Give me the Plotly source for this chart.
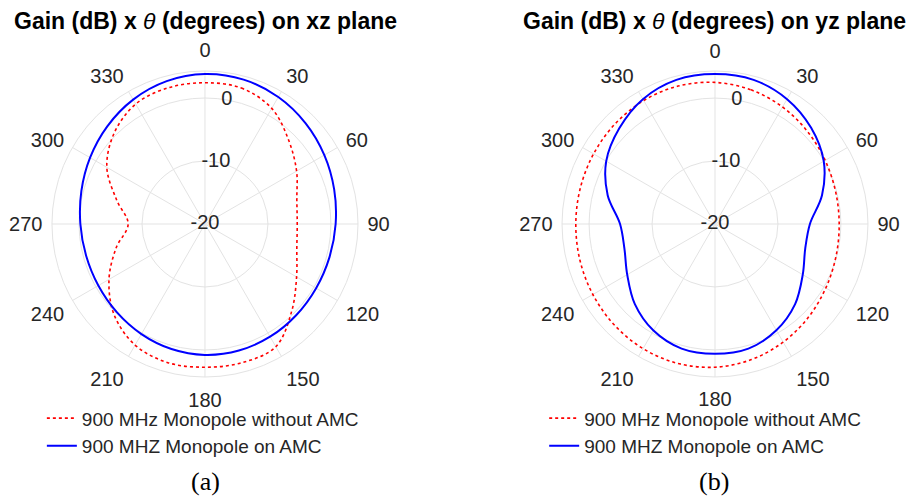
import plotly.graph_objects as go

# ---- data ----
theta_deg = [0, 15, 30, 45, 60, 75, 90, 105, 120, 135, 150, 165,
             180, 195, 210, 225, 240, 255, 270, 285, 300, 315, 330, 345]

# xz plane
xz_without_amc = [2.43, 2.35, 1.2, -1.2, -3.2, -4.9, -5.35, -4.9, -3.2, -0.5, 2.5, 2.8,
                  2.75, 2.8, 2.2, 0.4, -2.4, -5.4, -7.8, -5.5, -2.0, 0.4, 2.0, 2.4]
xz_on_amc = [3.81, 3.73, 3.28, 2.61, 1.89, 1.24, 0.75, 0.46, 0.38, 0.48, 0.67, 0.81,
             0.79, 0.56, 0.19, -0.19, -0.44, -0.46, -0.21, 0.32, 1.07, 1.94, 2.81, 3.48]

# yz plane
yz_without_amc = [2.49, 2.06, 1.46, 0.78, 0.21, -0.16, -0.27, -0.10, 0.33, 0.97, 1.67, 2.30,
                  2.75, 2.92, 2.86, 2.65, 2.40, 2.21, 2.11, 2.14, 2.27, 2.46, 2.65, 2.68]
yz_on_amc = [3.81, 3.7, 2.9, 1.6, -0.05, -2.4, -4.92, -5.15, -3.9, -2.0, -0.5, 0.5,
             0.63, 0.5, -0.45, -2.0, -3.9, -5.1, -4.92, -2.35, -0.05, 1.5, 2.9, 3.7]

angle_ticks = list(range(0, 360, 30))
angle_labels = [str(a) for a in angle_ticks]
radial_ticks = [-20, -10, 0]
r_range = [-20, 4.3]

series_names = ["900 MHz Monopole without AMC", "900 MHZ Monopole on AMC"]
titles = ["<b>Gain (dB) x </b><i>θ</i><b> (degrees) on xz plane</b>",
          "<b>Gain (dB) x </b><i>θ</i><b> (degrees) on yz plane</b>"]
captions = ["(a)", "(b)"]


def closed(vals):
    return list(vals) + [vals[0]]


FONT = "Liberation Sans, Arial, sans-serif"
GRID = "#e3e3e3"
TXT = "#262626"

fig = go.Figure()

panels = [(xz_without_amc, xz_on_amc, "polar", "legend"),
          (yz_without_amc, yz_on_amc, "polar2", "legend2")]

for red_vals, blue_vals, sub, leg in panels:
    fig.add_trace(go.Scatterpolar(
        r=closed(red_vals), theta=closed(theta_deg), mode="lines",
        line=dict(color="#ff0000", width=1.6, dash="dot", shape="spline"),
        name=series_names[0], subplot=sub, legend=leg))
    fig.add_trace(go.Scatterpolar(
        r=closed(blue_vals), theta=closed(theta_deg), mode="lines",
        line=dict(color="#0000ff", width=2, shape="spline"),
        name=series_names[1], subplot=sub, legend=leg))
    # radial tick labels, centred on the radial axis at 10 degrees
    fig.add_trace(go.Scatterpolar(
        r=radial_ticks, theta=[10] * len(radial_ticks), mode="text",
        text=[str(v) for v in radial_ticks],
        textfont=dict(size=20, color=TXT, family=FONT),
        textposition="middle center", showlegend=False, hoverinfo="skip",
        subplot=sub))

ydom = [0.2399, 0.8569]
polar_common = dict(
    bgcolor="white",
    radialaxis=dict(range=r_range, tickvals=radial_ticks[1:], showticklabels=False,
                    showline=False, ticks="", gridcolor=GRID, gridwidth=1, angle=80),
    angularaxis=dict(rotation=90, direction="clockwise", tickvals=angle_ticks,
                     ticktext=angle_labels,
                     showline=True, linecolor=GRID, linewidth=1,
                     gridcolor=GRID, gridwidth=1,
                     ticks="outside", ticklen=5, tickcolor="rgba(0,0,0,0)",
                     tickfont=dict(size=20, color=TXT, family=FONT)),
)

legend_common = dict(xanchor="left", y=0.195, yanchor="top",
                     font=dict(size=19, color=TXT, family=FONT),
                     bgcolor="rgba(0,0,0,0)", itemwidth=30, tracegroupgap=0)

fig.update_layout(
    width=910, height=496,
    margin=dict(l=0, r=0, t=0, b=0),
    paper_bgcolor="white", plot_bgcolor="white",
    font=dict(family=FONT, color=TXT),
    polar=dict(domain=dict(x=[0.0571, 0.3934], y=ydom), **polar_common),
    polar2=dict(domain=dict(x=[0.6176, 0.9538], y=ydom), **polar_common),
    legend=dict(x=0.046, **legend_common),
    legend2=dict(x=0.598, **legend_common),
    showlegend=True,
)

for i, xc in enumerate([205 / 910, 714 / 910]):
    fig.add_annotation(x=xc, y=1 - 21 / 496, xref="paper", yref="paper",
                       text=titles[i], showarrow=False, xanchor="center", yanchor="middle",
                       font=dict(size=23, color="black", family=FONT))
    fig.add_annotation(x=xc, y=1 - 481 / 496, xref="paper", yref="paper",
                       text=captions[i], showarrow=False, xanchor="center", yanchor="middle",
                       font=dict(size=26, color="black", family="Liberation Serif, Times New Roman, serif"))

fig.write_html("out.html", config={"displayModeBar": False},
               post_script="document.body.style.margin='0';")
